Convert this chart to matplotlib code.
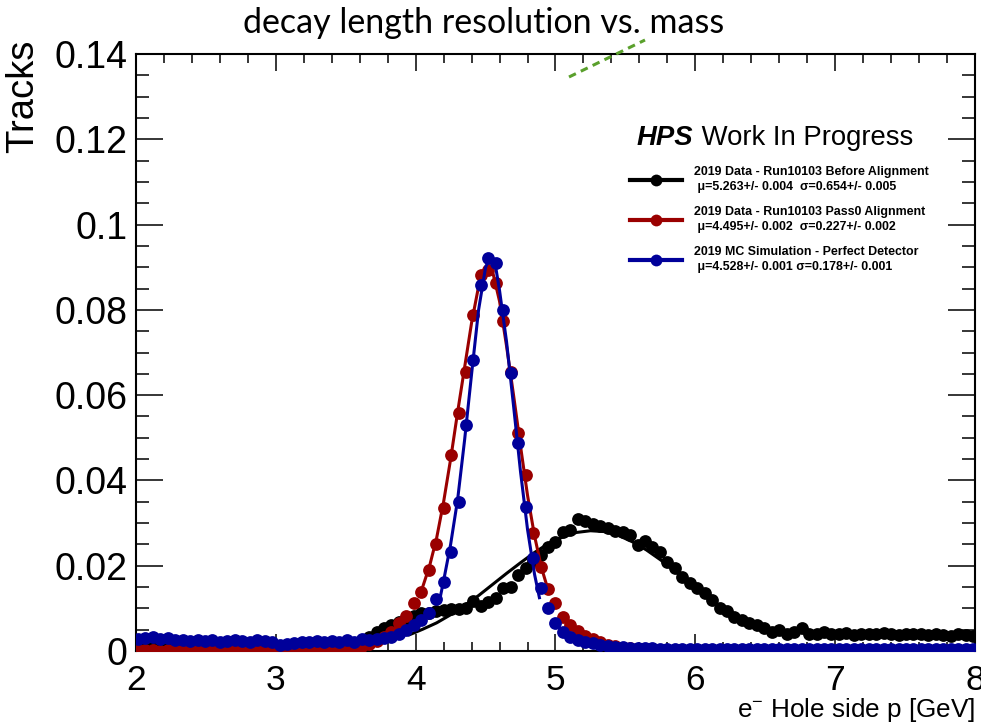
import numpy as np
import matplotlib
matplotlib.use("Agg")
import matplotlib.pyplot as plt
from matplotlib.lines import Line2D
from matplotlib.ticker import MultipleLocator, FixedLocator, FixedFormatter

plt.rcParams['font.family'] = ['Liberation Sans', 'DejaVu Sans']
plt.rcParams['mathtext.fontset'] = 'custom'
plt.rcParams['mathtext.rm'] = 'Liberation Sans'
plt.rcParams['mathtext.it'] = 'Liberation Sans:italic'

# histogram binning (width 8/150 GeV)
bin_first = 2.0133
bin_width = 8.0 / 150
n_bins = 113
p_centers = bin_first + bin_width * np.arange(n_bins)

# 2019 Data - Run10103 Before Alignment
black_vals = [
    0.0012, 0.0013, 0.0011, 0.0012, 0.0013, 0.0012, 0.0011, 0.0012, 0.0013, 0.0012,
    0.0011, 0.0012, 0.0012, 0.0013, 0.0011, 0.0012, 0.0012, 0.0011, 0.0012, 0.0010,
    0.0011, 0.0012, 0.0013, 0.0012, 0.0013, 0.0014, 0.0013, 0.0015, 0.0016, 0.0019,
    0.0024, 0.0033, 0.0045, 0.0055, 0.0061, 0.0068, 0.0075, 0.0083, 0.0088, 0.0090,
    0.0094, 0.0096, 0.0098, 0.0098, 0.0102, 0.0118, 0.0106, 0.0116, 0.0124, 0.0147,
    0.0150, 0.0178, 0.0194, 0.0210, 0.0225, 0.0245, 0.0256, 0.0280, 0.0284, 0.0309,
    0.0306, 0.0298, 0.0293, 0.0288, 0.0282, 0.0280, 0.0272, 0.0248, 0.0259, 0.0245,
    0.0233, 0.0209, 0.0194, 0.0173, 0.0159, 0.0147, 0.0135, 0.0120, 0.0100, 0.0094,
    0.0080, 0.0073, 0.0065, 0.0061, 0.0053, 0.0045, 0.0049, 0.0041, 0.0045, 0.0053,
    0.0041, 0.0040, 0.0045, 0.0039, 0.0040, 0.0042, 0.0038, 0.0040, 0.0041, 0.0039,
    0.0042, 0.0040, 0.0038, 0.0040, 0.0041, 0.0039, 0.0037, 0.0040, 0.0038, 0.0036,
    0.0039, 0.0037, 0.0035,
]

# 2019 Data - Run10103 Pass0 Alignment
red_vals = [
    0.0002, 0.0003, 0.0002, 0.0001, 0.0003, 0.0002, 0.0002, 0.0001, 0.0002, 0.0003,
    0.0002, 0.0001, 0.0002, 0.0002, 0.0003, 0.0002, 0.0001, 0.0002, 0.0003, 0.0002,
    0.0002, 0.0001, 0.0002, 0.0003, 0.0002, 0.0003, 0.0004, 0.0005, 0.0006, 0.0008,
    0.0012, 0.0017, 0.0024, 0.0033, 0.0045, 0.0065, 0.0082, 0.0112, 0.0139, 0.0190,
    0.0251, 0.0335, 0.0460, 0.0557, 0.0655, 0.0788, 0.0882, 0.0893, 0.0862, 0.0775,
    0.0655, 0.0512, 0.0413, 0.0276, 0.0198, 0.0145, 0.0112, 0.0080, 0.0061, 0.0047,
    0.0036, 0.0027, 0.0020, 0.0015, 0.0011, 0.0008, 0.0006, 0.0005, 0.0004, 0.0003,
    0.0003, 0.0002, 0.0003, 0.0002, 0.0002, 0.0001, 0.0002, 0.0002, 0.0001, 0.0002,
    0.0002, 0.0001, 0.0002, 0.0001, 0.0002, 0.0001, 0.0001, 0.0002, 0.0001, 0.0001,
    0.0002, 0.0001, 0.0001, 0.0002, 0.0001, 0.0001, 0.0001, 0.0002, 0.0001, 0.0001,
    0.0001, 0.0002, 0.0001, 0.0001, 0.0001, 0.0001, 0.0002, 0.0001, 0.0001, 0.0001,
    0.0001, 0.0001, 0.0001,
]

# 2019 MC Simulation - Perfect Detector
blue_vals = [
    0.0027, 0.0030, 0.0034, 0.0027, 0.0031, 0.0026, 0.0025, 0.0024, 0.0026, 0.0023,
    0.0025, 0.0022, 0.0024, 0.0026, 0.0023, 0.0021, 0.0026, 0.0024, 0.0022, 0.0015,
    0.0016, 0.0019, 0.0020, 0.0021, 0.0023, 0.0021, 0.0024, 0.0022, 0.0025, 0.0022,
    0.0027, 0.0025, 0.0027, 0.0031, 0.0034, 0.0041, 0.0049, 0.0061, 0.0073, 0.0088,
    0.0121, 0.0162, 0.0233, 0.0350, 0.0530, 0.0682, 0.0858, 0.0921, 0.0909, 0.0800,
    0.0651, 0.0487, 0.0338, 0.0217, 0.0147, 0.0100, 0.0065, 0.0045, 0.0034, 0.0026,
    0.0020, 0.0018, 0.0015, 0.0012, 0.0010, 0.0009, 0.0008, 0.0007, 0.0006, 0.0006,
    0.0005, 0.0005, 0.0005, 0.0004, 0.0005, 0.0004, 0.0005, 0.0004, 0.0004, 0.0005,
    0.0004, 0.0004, 0.0005, 0.0004, 0.0004, 0.0004, 0.0005, 0.0004, 0.0004, 0.0004,
    0.0005, 0.0004, 0.0004, 0.0004, 0.0004, 0.0005, 0.0004, 0.0004, 0.0004, 0.0004,
    0.0004, 0.0005, 0.0004, 0.0004, 0.0004, 0.0004, 0.0004, 0.0004, 0.0005, 0.0004,
    0.0004, 0.0004, 0.0004,
]

# fit curves
black_fit_x = [3.955, 4.05, 4.15, 4.25, 4.35, 4.45, 4.55, 4.65, 4.75, 4.85, 4.95, 5.05, 5.15,
               5.25, 5.35, 5.45, 5.55, 5.65, 5.75, 5.85, 5.95, 6.05, 6.15, 6.25, 6.35, 6.45, 6.55]
black_fit_y = [0.0038, 0.0051, 0.0066, 0.0085, 0.0107, 0.0130, 0.0156, 0.0182, 0.0207, 0.0231,
               0.0252, 0.0267, 0.0278, 0.0282, 0.0280, 0.0271, 0.0256, 0.0237, 0.0214, 0.0189,
               0.0162, 0.0137, 0.0112, 0.0090, 0.0071, 0.0054, 0.0041]
red_fit_x = [4.05, 4.10, 4.15, 4.20, 4.25, 4.30, 4.35, 4.40, 4.45, 4.50, 4.55, 4.60, 4.65,
             4.70, 4.75, 4.80, 4.85, 4.90, 4.95]
red_fit_y = [0.0150, 0.0200, 0.0265, 0.0350, 0.0450, 0.0560, 0.0665, 0.0770, 0.0855, 0.0900,
             0.0890, 0.0820, 0.0715, 0.0600, 0.0480, 0.0365, 0.0270, 0.0195, 0.0140]
blue_fit_x = [4.175, 4.20, 4.25, 4.30, 4.35, 4.40, 4.45, 4.50, 4.535, 4.57, 4.60, 4.65, 4.70,
              4.75, 4.80, 4.85, 4.885]
blue_fit_y = [0.0125, 0.0165, 0.0250, 0.0355, 0.0495, 0.0650, 0.0800, 0.0900, 0.0925, 0.0905,
              0.0845, 0.0725, 0.0575, 0.0420, 0.0285, 0.0180, 0.0125]

labels = ["2019 Data - Run10103 Before Alignment\n \u03bc=5.263+/- 0.004  \u03c3=0.654+/- 0.005",
          "2019 Data - Run10103 Pass0 Alignment\n \u03bc=4.495+/- 0.002  \u03c3=0.227+/- 0.002",
          "2019 MC Simulation - Perfect Detector\n \u03bc=4.528+/- 0.001 \u03c3=0.178+/- 0.001"]
colors = ["#000000", "#9a0000", "#00009a"]

y_ticks = [0, 0.02, 0.04, 0.06, 0.08, 0.1, 0.12, 0.14]
y_ticklabels = ["0", "0.02", "0.04", "0.06", "0.08", "0.1", "0.12", "0.14"]
x_ticks = [2, 3, 4, 5, 6, 7, 8]

fig = plt.figure(figsize=(9.81, 7.26), dpi=100)
ax = fig.add_axes([136/981, 1 - 651/726, (975 - 136)/981, (651 - 54)/726])

series = [(black_vals, black_fit_x, black_fit_y),
          (red_vals, red_fit_x, red_fit_y),
          (blue_vals, blue_fit_x, blue_fit_y)]
z = 2
for (vals, fx, fy), c in zip(series, colors):
    ax.plot(p_centers, vals, 'o', color=c, ms=9.2, mew=0, zorder=z)
    ax.plot(fx, fy, '-', color=c, lw=2.2, zorder=z + 1)
    z += 2

ax.set_xlim(2, 8)
ax.set_ylim(0, 0.14)

ax.xaxis.set_major_locator(FixedLocator(x_ticks))
ax.xaxis.set_minor_locator(MultipleLocator(0.2))
ax.yaxis.set_major_locator(FixedLocator(y_ticks))
ax.yaxis.set_major_formatter(FixedFormatter(y_ticklabels))
ax.yaxis.set_minor_locator(MultipleLocator(0.005))

ax.tick_params(axis='both', which='both', direction='in', top=True, right=True, width=1.1)
ax.tick_params(axis='x', which='major', length=12, labelsize=25.5, pad=9)
ax.tick_params(axis='x', which='minor', length=6.5)
ax.tick_params(axis='y', which='major', length=19.5, labelsize=27, pad=6)
ax.tick_params(axis='y', which='minor', length=9.5)
for s in ax.spines.values():
    s.set_linewidth(1.5)

# axis titles
fig.text(975/981, 1 - 717/726, r"e$^{-}$ Hole side p [GeV]", ha='right', va='baseline', fontsize=18.8)
fig.text(23/981, 1 - 40/726, "Tracks", rotation=90, ha='center', va='top', fontsize=27.5)

# slide title
fig.text(484/981, 1 - 33/726, "decay length resolution vs. mass", ha='center', va='baseline',
         fontsize=24.5, family=['Lato', 'DejaVu Sans'])

# stray green dashes from the slide
fig.add_artist(Line2D([569/981, 645/981], [1 - 77/726, 1 - 40/726], color='#5aa02c',
                      lw=2.2, ls=(0, (2.5, 1.8))))

# HPS Work In Progress
hps = fig.text(637/981, 1 - 145/726, "HPS", fontsize=19.8, fontweight='bold', style='italic',
               va='baseline')
ax.annotate(" Work In Progress", xy=(1, 0), xycoords=hps, va='bottom', ha='left', fontsize=19.8)

handles = [Line2D([0], [0], color=c, lw=3, marker='o', ms=8.5, mew=0) for c in colors]
leg = ax.legend(handles, labels, loc='upper left', bbox_to_anchor=(630/981, 1 - 166/726),
                bbox_transform=fig.transFigure, frameon=False,
                prop={'weight': 'bold', 'size': 8.9}, handlelength=4.2, handletextpad=1.0,
                labelspacing=1.05, borderpad=0, borderaxespad=0)
for t in leg.get_texts():
    t.set_linespacing(1.35)

fig.savefig("out.png", dpi=100)
